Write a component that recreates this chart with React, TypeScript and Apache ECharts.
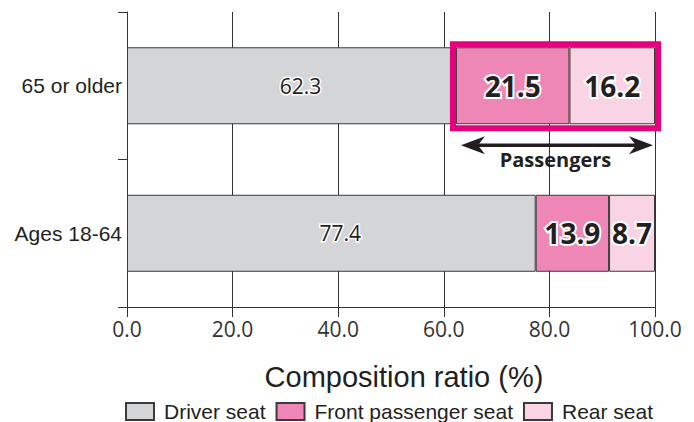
import React, { useEffect, useRef } from "react";
import * as echarts from "echarts";

const categories = ["65 or older", "Ages 18-64"];
const driverSeat = [62.3, 77.4];
const frontPassengerSeat = [21.5, 13.9];
const rearSeat = [16.2, 8.7];
const xTicks = [0, 20, 40, 60, 80, 100];

const SANS = "'Liberation Sans', Arial, sans-serif";
const NUM = "'Open Sans', sans-serif";
const MAGENTA = "#e5007f";
const BAR_W = 77;

export default function App() {
  const ref = useRef<HTMLDivElement>(null);

  useEffect(() => {
    if (!ref.current) return;
    document.body.style.margin = "0";
    const chart = echarts.init(ref.current, null, { renderer: "svg" });

    const bigLabel = {
      show: true,
      position: "inside",
      fontFamily: NUM,
      fontWeight: "bold",
      fontSize: 28,
      color: "#231f20",
      textBorderColor: "#fff",
      textBorderWidth: 4,
      formatter: (p: any) => p.value.toFixed(1),
    };

    chart.setOption({
      animation: false,
      backgroundColor: "#fff",
      grid: { left: 127, right: 39, top: 12, bottom: 115 },
      legend: {
        left: 120,
        top: 396,
        itemWidth: 28,
        itemHeight: 17,
        itemGap: 10,
        icon: "rect",
        textStyle: { fontFamily: SANS, fontSize: 21, color: "#231f20", padding: [0, 0, 0, 5] },
        data: ["Driver seat", "Front passenger seat", "Rear seat"],
      },
      xAxis: {
        type: "value",
        min: xTicks[0],
        max: xTicks[xTicks.length - 1],
        interval: 20,
        name: "Composition ratio (%)",
        nameLocation: "middle",
        nameGap: 55,
        nameTextStyle: { fontFamily: SANS, fontSize: 29, color: "#231f20", padding: [0, 0, 0, 26] },
        axisLine: { show: true, lineStyle: { color: "#333", width: 1 } },
        axisTick: { show: true, length: 10, lineStyle: { color: "#333" } },
        axisLabel: {
          fontFamily: NUM,
          fontSize: 21,
          color: "#333",
          margin: 11,
          formatter: (v: number) => v.toFixed(1),
        },
        splitLine: { show: true, lineStyle: { color: "#333", width: 1 } },
      },
      yAxis: {
        type: "category",
        inverse: true,
        data: categories,
        axisLine: { show: true, lineStyle: { color: "#333", width: 1 } },
        axisTick: { show: true, length: 9, lineStyle: { color: "#333" } },
        axisLabel: { fontFamily: SANS, fontSize: 21, color: "#231f20", margin: 5 },
      },
      series: [
        {
          name: "Driver seat",
          type: "bar",
          stack: "seat",
          barWidth: BAR_W,
          data: driverSeat,
          itemStyle: { color: "#d4d5d7", borderColor: "#3a3a3a", borderWidth: 1 },
          label: {
            show: true,
            position: "inside",
            offset: [9, 0],
            fontFamily: NUM,
            fontSize: 21,
            color: "#231f20",
            textBorderColor: "#fff",
            textBorderWidth: 3,
            formatter: (p: any) => p.value.toFixed(1),
          },
        },
        {
          name: "Front passenger seat",
          type: "bar",
          stack: "seat",
          barWidth: BAR_W,
          data: frontPassengerSeat,
          itemStyle: { color: "#ef87b6", borderColor: "#3a3a3a", borderWidth: 1 },
          label: bigLabel,
        },
        {
          name: "Rear seat",
          type: "bar",
          stack: "seat",
          barWidth: BAR_W,
          data: rearSeat,
          itemStyle: { color: "#f9d4e5", borderColor: "#3a3a3a", borderWidth: 1 },
          label: bigLabel,
        },
      ],
    });

    // Highlight box and "Passengers" arrow around the passenger share of the top bar
    const left = chart.convertToPixel({ gridIndex: 0 }, [driverSeat[0], categories[0]]) as number[];
    const right = chart.convertToPixel(
      { gridIndex: 0 },
      [driverSeat[0] + frontPassengerSeat[0] + rearSeat[0], categories[0]]
    ) as number[];
    const cy = left[1];
    const bx0 = left[0] - 3;
    const bx1 = right[0] + 3;
    const by0 = cy - BAR_W / 2 - 3;
    const by1 = cy + BAR_W / 2 + 4;
    const ay = by1 + 17;
    const ax0 = bx0 + 8;
    const ax1 = bx1 - 5;
    const head = 24;
    const hh = 9;
    const cx = (bx0 + bx1) / 2;

    chart.setOption({
      graphic: [
        {
          type: "rect",
          shape: { x: bx0, y: by0, width: bx1 - bx0, height: by1 - by0 },
          style: { fill: "none", stroke: MAGENTA, lineWidth: 6 },
          z: 100,
        },
        {
          type: "line",
          shape: { x1: ax0 + 12, y1: ay, x2: ax1 - 12, y2: ay },
          style: { stroke: "#231f20", lineWidth: 3.5 },
          z: 100,
        },
        {
          type: "polygon",
          shape: {
            points: [
              [ax0, ay],
              [ax0 + head, ay - hh],
              [ax0 + head - 7, ay],
              [ax0 + head, ay + hh],
            ],
          },
          style: { fill: "#231f20" },
          z: 100,
        },
        {
          type: "polygon",
          shape: {
            points: [
              [ax1, ay],
              [ax1 - head, ay - hh],
              [ax1 - head + 7, ay],
              [ax1 - head, ay + hh],
            ],
          },
          style: { fill: "#231f20" },
          z: 100,
        },
        {
          type: "text",
          x: cx,
          y: ay + 14,
          style: {
            text: "Passengers",
            fontFamily: NUM,
            fontWeight: "bold",
            fontSize: 20,
            fill: "#231f20",
            align: "center",
            verticalAlign: "middle",
          },
          z: 100,
        },
      ],
    });

    return () => chart.dispose();
  }, []);

  return <div ref={ref} style={{ width: 694, height: 422 }} />;
}
